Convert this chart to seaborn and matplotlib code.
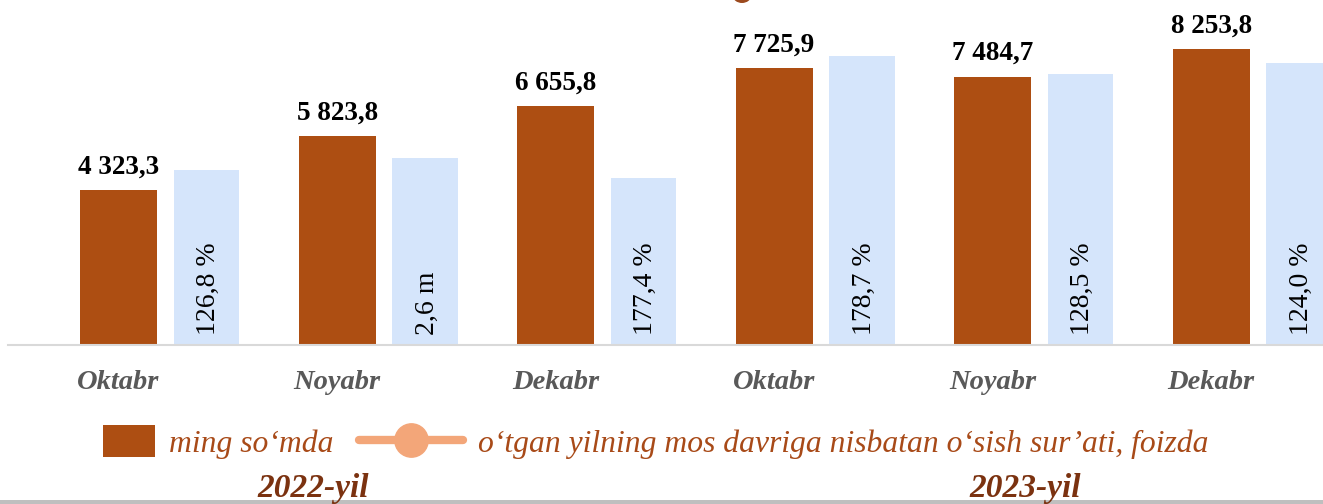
import matplotlib
matplotlib.use("Agg")
import matplotlib.pyplot as plt
import seaborn as sns
import numpy as np
from matplotlib.patches import Patch, Rectangle, Ellipse
from matplotlib.lines import Line2D
from matplotlib.legend_handler import HandlerPatch

# ---- data ----
months = ['Oktabr', 'Noyabr', 'Dekabr', 'Oktabr', 'Noyabr', 'Dekabr']
years = ['2022-yil', '2023-yil']
values = [4323.3, 5823.8, 6655.8, 7725.9, 7484.7, 8253.8]
value_labels = ['4 323,3', '5 823,8', '6 655,8', '7 725,9', '7 484,7', '8 253,8']
blue_heights = [4880, 5215, 4660, 8060, 7560, 7865]
blue_labels = ['126,8 %', '2,6 m', '177,4 %', '178,7 %', '128,5 %', '124,0 %']
legend_labels = ['ming so\u2018mda',
                 'o\u2018tgan yilning mos davriga nisbatan o\u2018sish sur\u2019ati, foizda']

BROWN = '#AD4E12'
BLUE = '#D5E5FB'
SALMON = '#F3A679'
LEG_TXT = '#A84A18'
YEAR_TXT = '#7B3210'
TICK_TXT = '#595959'
SERIF = ['Liberation Serif', 'DejaVu Serif']

sns.set_style('white')
plt.rcParams['font.family'] = SERIF

W, H = 1323, 504
fig = plt.figure(figsize=(W / 100, H / 100), dpi=100)
ax = fig.add_axes([8 / W, 1 - 345 / H, 1 - 8 / W, 345 / H])

brown_pos = list(range(len(values)))
blue_pos = [p + 0.403 for p in brown_pos]

sns.barplot(x=brown_pos, y=values, native_scale=True, width=0.352,
            color=BROWN, saturation=1, ax=ax, linewidth=0)
sns.barplot(x=blue_pos, y=blue_heights, native_scale=True, width=0.30,
            color=BLUE, saturation=1, ax=ax, linewidth=0)

ax.set_xlim(-0.506, 5.512)
ax.set_ylim(0, 9623)
ax.set_yticks([])
ax.set_xticks(brown_pos)
ax.set_xticklabels(months, fontsize=20.5, fontweight='bold', fontstyle='italic',
                   color=TICK_TXT)
ax.tick_params(axis='x', length=0, pad=18)
for s in ['top', 'right', 'left']:
    ax.spines[s].set_visible(False)
ax.spines['bottom'].set_color('#D9D9D9')
ax.spines['bottom'].set_linewidth(1.5)
ax.set_xlabel('')
ax.set_ylabel('')

for x, v, lab in zip(brown_pos, values, value_labels):
    ax.annotate(lab, (x, v), xytext=(0, 12), textcoords='offset points',
                ha='center', va='baseline', fontsize=19.5, fontweight='bold',
                color='black', annotation_clip=False)

for x, lab in zip(blue_pos, blue_labels):
    ax.annotate(lab, (x, 0), xytext=(1.5, 7), textcoords='offset points',
                ha='center', va='bottom', rotation=90, fontsize=20,
                color='black')

# ---- legend ----
def square_patch(legend, orig_handle, xdescent, ydescent, width, height, fontsize):
    w = 37.5
    h = 23.0
    return Rectangle((-xdescent + width - w, -ydescent + height / 2 - h / 2), w, h)

handles = [Patch(facecolor=BROWN, edgecolor='none'),
           Line2D([0], [0], color=SALMON, lw=6, marker='o', markersize=24,
                  markerfacecolor=SALMON, markeredgecolor=SALMON,
                  solid_capstyle='round')]
fig.legend(handles, legend_labels, loc='center', bbox_to_anchor=(0.4755, 1 - 443 / H),
           ncol=2, frameon=False,
           prop={'family': SERIF, 'style': 'italic', 'size': 22.8},
           labelcolor=LEG_TXT, handlelength=3.3, handleheight=1.0,
           handletextpad=0.45, columnspacing=0.8,
           handler_map={Patch: HandlerPatch(patch_func=square_patch)})

# ---- year labels ----
for xc, yl in zip([313, 1025], years):
    fig.text(xc / W, 1 - 489 / H, yl, ha='center', va='center', fontsize=24,
             fontweight='bold', fontstyle='italic', color=YEAR_TXT)

# bottom gray band and clipped top marker
fig.add_artist(Rectangle((0, 0), 1, 4 / H, transform=fig.transFigure,
                         facecolor='#BFBFBF', edgecolor='none'))
fig.add_artist(Ellipse((742 / W, (H + 4) / H), 18 / W, 14 / H,
                       transform=fig.transFigure, facecolor='#9C4A1E',
                       edgecolor='none'))

fig.savefig('out.png', dpi=100)
